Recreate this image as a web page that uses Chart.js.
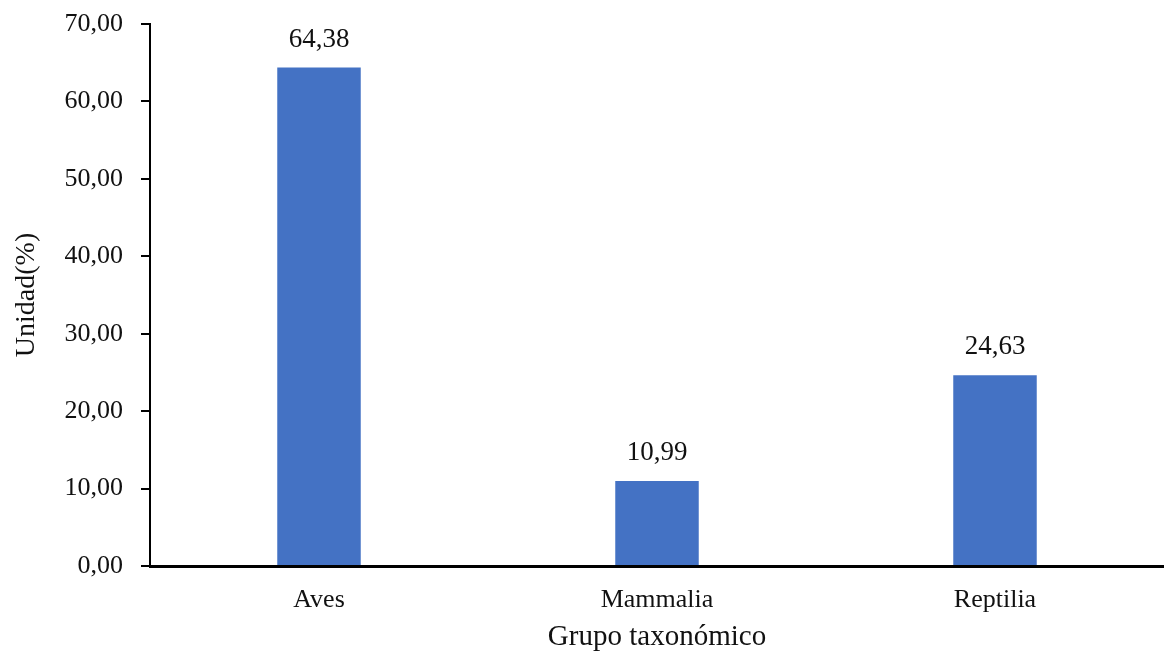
<!DOCTYPE html>
<html>
<head>
<meta charset="utf-8">
<script src="https://cdn.jsdelivr.net/npm/chart.js@4/dist/chart.umd.min.js"></script>
<style>
  html, body { margin: 0; padding: 0; background: #fff; }
  #wrap { width: 1164px; height: 657px; }
</style>
</head>
<body>
<div id="wrap"><canvas id="grafico" width="1164" height="657"></canvas></div>
<script>
const grupos = ['Aves', 'Mammalia', 'Reptilia'];
const porcentajes = [64.38, 10.99, 24.63];
const marcasY = [0, 10, 20, 30, 40, 50, 60, 70];

const fuente = '"Liberation Serif", "Times New Roman", serif';
const coma = v => v.toFixed(2).replace('.', ',');

// etiquetas de valor encima de cada barra
const etiquetas = {
  id: 'etiquetas',
  afterDatasetsDraw(chart) {
    const ctx = chart.ctx;
    const meta = chart.getDatasetMeta(0);
    ctx.save();
    ctx.font = '27px ' + fuente;
    ctx.fillStyle = '#111';
    ctx.textAlign = 'center';
    ctx.textBaseline = 'middle';
    meta.data.forEach((bar, i) => {
      ctx.fillText(coma(porcentajes[i]), bar.x, bar.y - 28);
    });
    ctx.restore();
  }
};

new Chart(document.getElementById('grafico'), {
  type: 'bar',
  data: {
    labels: grupos,
    datasets: [{
      data: porcentajes,
      backgroundColor: '#4472C4',
      borderWidth: 0,
      barPercentage: 0.247,
      categoryPercentage: 1
    }]
  },
  options: {
    responsive: false,
    animation: false,
    layout: { padding: { top: 24, right: 0, bottom: 0, left: 0 } },
    plugins: { legend: { display: false }, tooltip: { enabled: false } },
    scales: {
      x: {
        afterFit: s => { s.height = 91; s.paddingLeft = 0; s.paddingRight = 0; },
        grid: { display: true, drawOnChartArea: false, drawTicks: false },
        border: { display: true, color: '#000', width: 3 },
        ticks: { color: '#111', font: { family: fuente, size: 26 }, padding: 19 },
        title: {
          display: true, text: 'Grupo taxonómico', color: '#111',
          font: { family: fuente, size: 29 }, padding: { top: 2, bottom: 2 }
        }
      },
      y: {
        min: 0,
        max: 70,
        afterBuildTicks: s => { s.ticks = marcasY.map(v => ({ value: v })); },
        afterFit: s => { s.width = 150; s.paddingTop = 0; s.paddingBottom = 0; },
        grid: { display: true, drawOnChartArea: false, drawTicks: true, tickLength: 9, color: '#000', lineWidth: 2 },
        border: { display: true, color: '#000', width: 2 },
        ticks: { color: '#111', font: { family: fuente, size: 26 }, padding: 18, callback: v => coma(v) },
        title: {
          display: true, text: 'Unidad(%)', color: '#111',
          font: { family: fuente, size: 28 }, padding: { top: 10, bottom: 0 }
        }
      }
    }
  },
  plugins: [etiquetas]
});
</script>
</body>
</html>
